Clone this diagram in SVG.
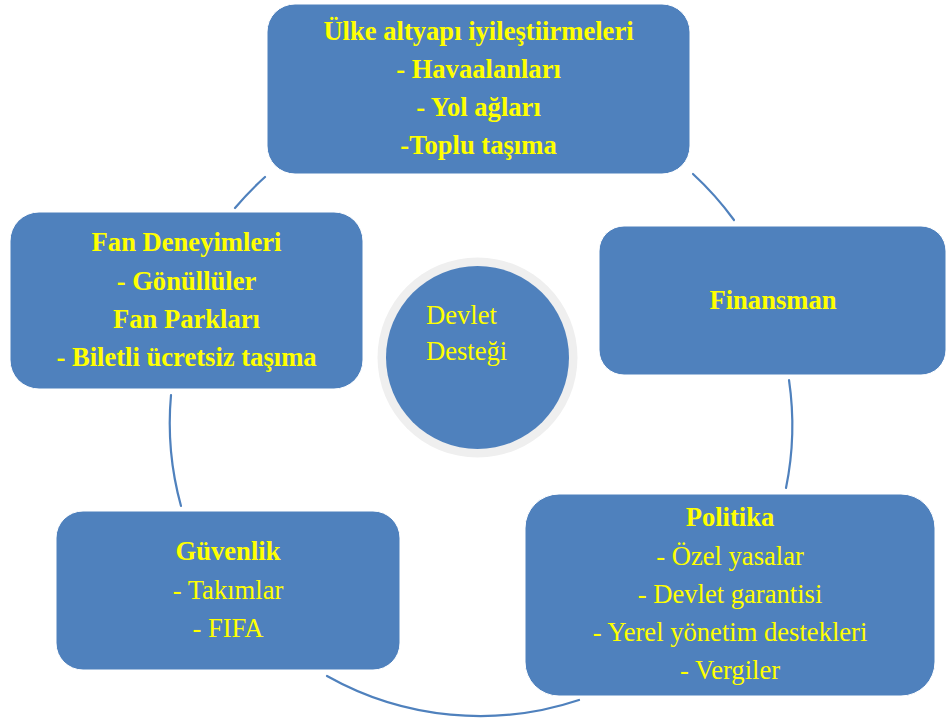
<svg xmlns="http://www.w3.org/2000/svg" width="946" height="720" viewBox="0 0 946 720">
  <style>
    .box { fill: #4f81bd; stroke: #ffffff; stroke-width: 1; }
    .link { fill: none; stroke: #4f81bd; stroke-width: 2.2; stroke-linecap: round; }
    .t { font-family: "Liberation Serif", "Times New Roman", serif; font-size: 26.6px; fill: #ffff00; text-anchor: middle; }
    .b { font-weight: bold; }
  </style>
  <rect width="946" height="720" fill="#ffffff"/>

  <!-- cycle connectors: arcs of one circle around the centre -->
  <g id="connectors">
    <path class="link" d="M235,208 A312.5,312.5 0 0 1 265,177"/>
    <path class="link" d="M693,174 A312.5,312.5 0 0 1 734,220"/>
    <path class="link" d="M789,380 A312.5,312.5 0 0 1 786,488"/>
    <path class="link" d="M579,700 A312.5,312.5 0 0 1 327,676"/>
    <path class="link" d="M181,506 A312.5,312.5 0 0 1 171,395"/>
  </g>

  <g id="center">
    <circle cx="477.5" cy="357.5" r="100" fill="#efefef"/>
    <circle cx="477.5" cy="357.5" r="91.5" fill="#4f81bd"/>
    <text class="t" style="text-anchor:start" x="426" y="324">Devlet</text>
    <text class="t" style="text-anchor:start" x="426" y="360">Desteği</text>
  </g>

  <g id="altyapi">
    <rect class="box" x="267" y="4" width="423" height="170" rx="28"/>
    <text class="t b" x="478.5" y="40">Ülke altyapı iyileştiirmeleri</text>
    <text class="t b" x="478.5" y="78">- Havaalanları</text>
    <text class="t b" x="478.5" y="116">- Yol ağları</text>
    <text class="t b" x="478.5" y="154">-Toplu taşıma</text>
  </g>

  <g id="finansman">
    <rect class="box" x="599" y="226" width="347" height="149" rx="25"/>
    <text class="t b" x="773" y="309">Finansman</text>
  </g>

  <g id="politika">
    <rect class="box" x="525" y="494" width="410" height="202" rx="34"/>
    <text class="t b" x="730" y="526">Politika</text>
    <text class="t" x="730" y="565">- Özel yasalar</text>
    <text class="t" x="730" y="603">- Devlet garantisi</text>
    <text class="t" x="730" y="641">- Yerel yönetim destekleri</text>
    <text class="t" x="730" y="679">- Vergiler</text>
  </g>

  <g id="guvenlik">
    <rect class="box" x="56" y="511" width="344" height="159" rx="27"/>
    <text class="t b" x="228" y="560">Güvenlik</text>
    <text class="t" x="228" y="599">- Takımlar</text>
    <text class="t" x="228" y="637">- FIFA</text>
  </g>

  <g id="fan">
    <rect class="box" x="10" y="212" width="353" height="177" rx="29"/>
    <text class="t b" x="186.5" y="251">Fan Deneyimleri</text>
    <text class="t b" x="186.5" y="290">- Gönüllüler</text>
    <text class="t b" x="186.5" y="328">Fan Parkları</text>
    <text class="t b" x="186.5" y="366">- Biletli ücretsiz taşıma</text>
  </g>
</svg>
